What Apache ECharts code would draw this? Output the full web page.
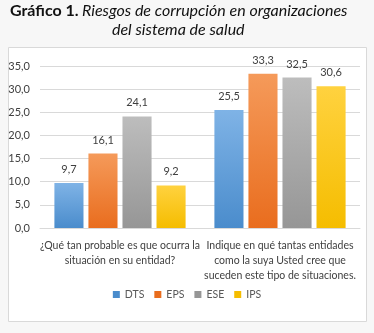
<!DOCTYPE html>
<html>
<head>
<meta charset="utf-8">
<script src="https://cdn.jsdelivr.net/npm/echarts@6/dist/echarts.min.js"></script>
<style>
html,body{margin:0;padding:0;background:#f7f7f7;}
#c{width:374px;height:333px;}
</style>
</head>
<body>
<div id="c"></div>
<script>
const categories = [
  "¿Qué tan probable es que ocurra la\nsituación en su entidad?",
  "Indique en qué tantas entidades\ncomo la suya Usted cree que\nsuceden este tipo de situaciones."
];
const seriesNames = ["DTS", "EPS", "ESE", "IPS"];
const dts = [9.7, 25.5];
const eps = [16.1, 33.3];
const ese = [24.1, 32.5];
const ips = [9.2, 30.6];
const yTicks = {min: 0, max: 35, interval: 5};

const colors = [
  ["#7fb3e6", "#4a8ccc"],
  ["#f59a5a", "#e96d1e"],
  ["#bdbdbd", "#969696"],
  ["#ffd23f", "#f5bd00"]
];
const values = [dts, eps, ese, ips];
const fmt = v => v.toFixed(1).replace('.', ',');
const FONT = 'Lato, "Liberation Sans", sans-serif';

const chart = echarts.init(document.getElementById('c'), null, {renderer: 'canvas'});
chart.setOption({
  animation: false,
  backgroundColor: '#f7f7f7',
  textStyle: {fontFamily: FONT},
  graphic: [
    {type: 'rect', shape: {x: 8.5, y: 47.5, width: 358, height: 274},
     style: {fill: '#ffffff', stroke: '#d9d9d9', lineWidth: 1}, z: -10},
    {type: 'text', left: 10, top: 3, z: 10,
     style: {text: '{b|Gráfico 1.} {i|Riesgos de corrupción en organizaciones}',
       rich: {b: {fontFamily: FONT, fontWeight: 'bold', fontSize: 16, fill: '#111'},
              i: {fontFamily: FONT, fontStyle: 'italic', fontSize: 16, fill: '#111'}}}},
    {type: 'text', left: 112, top: 22, z: 10,
     style: {text: 'del sistema de salud', fontFamily: FONT, fontStyle: 'italic', fontSize: 16, fill: '#111'}}
  ],
  grid: {left: 40, right: 14, top: 66, bottom: 105, containLabel: false},
  legend: {
    data: seriesNames.map((n, i) => ({name: n, itemStyle: {color: colors[i][1]}})),
    bottom: 28, left: 'center',
    itemWidth: 7, itemHeight: 7, itemGap: 10,
    textStyle: {color: '#595959', fontSize: 10.5, fontFamily: FONT},
    icon: 'rect'
  },
  xAxis: {
    type: 'category', data: categories,
    axisLine: {lineStyle: {color: '#d9d9d9'}},
    axisTick: {show: false},
    axisLabel: {color: '#404040', fontSize: 10.5, lineHeight: 15, margin: 10, interval: 0, fontFamily: FONT}
  },
  yAxis: {
    type: 'value', min: yTicks.min, max: yTicks.max, interval: yTicks.interval,
    axisLine: {show: false}, axisTick: {show: false},
    splitLine: {lineStyle: {color: '#d9d9d9'}},
    axisLabel: {color: '#404040', fontSize: 11, formatter: v => fmt(v), margin: 10, fontFamily: FONT}
  },
  series: seriesNames.map((n, i) => ({
    name: n, type: 'bar', data: values[i],
    barCategoryGap: '18%', barGap: '17%',
    itemStyle: {
      color: new echarts.graphic.LinearGradient(0, 0, 0, 1, [
        {offset: 0, color: colors[i][0]}, {offset: 1, color: colors[i][1]}
      ])
    },
    label: {show: true, position: 'top', distance: 8, color: '#404040', fontSize: 11, formatter: p => fmt(p.value), fontFamily: FONT}
  }))
});
</script>
</body>
</html>
